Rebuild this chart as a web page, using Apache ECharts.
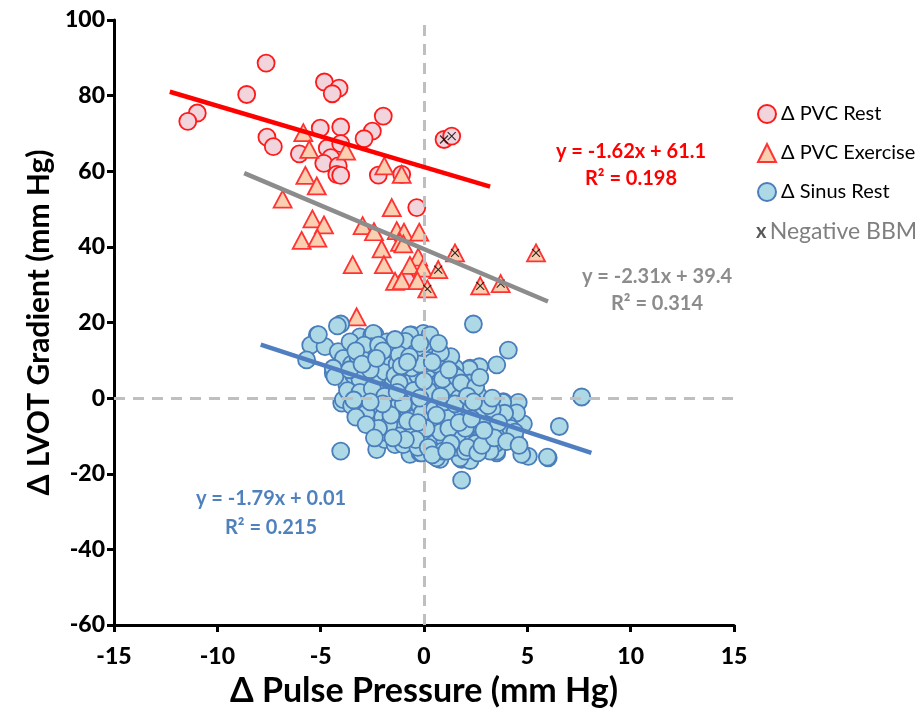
<!DOCTYPE html>
<html>
<head>
<meta charset="utf-8">
<script src="https://cdn.jsdelivr.net/npm/echarts@6/dist/echarts.min.js"></script>
<style>html,body{margin:0;padding:0;background:#fff}#c{width:922px;height:713px}</style>
</head>
<body>
<div id="c"></div>
<script>
// ---- data ----
const xTicks = [-15, -10, -5, 0, 5, 10, 15];
const yTicks = [-60, -40, -20, 0, 20, 40, 60, 80, 100];

const pvcRest = [[-7.64,88.6],[-8.58,80.3],[-10.97,75.4],[-11.43,73.2],[-4.82,83.6],[-4.11,82.0],[-4.44,80.5],[-1.97,74.6],[-2.50,70.6],[-2.90,68.6],[-5.02,71.4],[-4.03,71.7],[-7.60,69.0],[-7.29,66.5],[-6.03,64.6],[-4.68,66.1],[-4.03,67.3],[-4.51,63.6],[-4.85,62.1],[-4.15,61.4],[-4.22,59.2],[-4.03,58.9],[-2.21,59.0],[-1.08,59.2],[-0.35,50.4],[0.97,68.4],[1.34,69.3],[-0.87,31.1]];

const pvcExercise = [[-5.84,70.2],[-5.55,65.8],[-3.77,65.3],[-1.92,61.4],[-1.08,59.2],[-5.74,58.9],[-5.19,56.1],[-6.84,52.6],[-1.56,50.4],[-5.40,47.4],[-4.84,45.8],[-5.92,41.7],[-5.16,42.3],[-2.97,45.6],[-2.42,44.0],[-1.32,44.3],[-0.97,43.9],[-0.23,43.9],[-2.05,39.5],[-1.16,41.2],[-1.00,40.8],[-0.28,37.3],[-0.68,35.1],[-0.06,34.4],[-3.45,35.3],[-1.94,35.3],[-1.40,30.9],[-1.08,31.1],[-0.32,31.1],[0.16,28.9],[0.69,34.0],[1.50,38.4],[2.72,29.7],[3.71,30.3],[5.42,38.4],[-3.26,21.5]];

const sinusRest = [[-4.03,19.6],[-4.19,19.1],[2.39,19.6],[-5.16,16.7],[-5.48,14.0],[-4.79,13.6],[-5.68,10.1],[-3.10,16.2],[-2.37,16.8],[-2.53,16.5],[-1.80,14.9],[-0.60,16.7],[-0.03,17.1],[-3.55,14.5],[-4.06,12.1],[4.08,12.7],[1.18,10.1],[2.23,7.9],[2.68,8.3],[3.52,8.8],[1.66,3.7],[7.63,0.3],[3.84,-0.9],[4.56,-1.1],[4.40,-4.4],[4.81,-6.8],[6.55,-7.5],[4.40,-11.0],[4.81,-14.9],[5.05,-15.4],[6.01,-15.8],[1.82,-16.2],[2.23,-16.5],[1.74,-15.8],[1.82,-21.7],[-4.03,-14.0],[-2.29,-13.6],[-0.68,-14.9],[-0.19,-14.5],[0.69,-14.5],[0.77,-16.2],[3.52,-14.5],[-3.74,-0.9],[-3.98,-1.3],[-3.26,-3.5],[-4.39,6.6],[-3.74,3.7],
[-5.11,16.8],[-4.15,12.3],[-3.90,10.5],[-4.39,7.9],[-4.31,5.7],[-3.26,7.0],[-3.58,14.9],[-2.45,17.1],[-3.02,13.2],[-2.53,13.6],[-1.97,11.4],[-2.53,9.7],[-2.29,6.6],[-2.77,3.5],[-2.69,0.4],[-3.90,-0.4],[-3.18,0],[-0.68,16.7],[-0.76,13.6],[-1.00,10.5],[-1.64,8.8],[-1.16,6.1],[-1.80,3.5],[-1.48,0.9],[-2.29,0.4],[-0.19,11.4],[0.29,13.2],[0.45,8.3],[-0.19,5.3],[-0.52,2.2],[0.45,2.2],[0.61,-1.8],
[0.45,12.7],[0.29,16.7],[2.19,7.7],[1.18,9.8],[2.39,2.5],[0.93,2.6],[0.61,6.1],[1.90,-0.4],
[-2.21,-5.7],[-1.64,-9.7],[-1.89,-11.0],[-1.40,-12.3],[-0.11,-14.5],[0.61,-15.8],[-2.45,-6.1],[-1.16,-5.3],[-1.64,-2.6],[-0.68,-2.6],[-0.03,-7.0],[-0.68,-9.7],[0.29,-11.4],[0.61,-8.8],[-1.00,-12.3],
[3.52,-14.0],[4.73,-14.9],[5.97,-15.6],[4.48,-3.9],[3.68,-3.5],[3.81,-1.1],[3.52,-11.8],[3.19,-9.2],[2.87,-7.9],[2.39,-6.6],[1.90,-5.3],[1.90,-1.3],[1.26,-3.5],[0.69,-12.3],[1.42,-10.5],[1.90,-9.7],[2.39,-8.8],[3.84,-8.8],[4.08,-7.0],[3.03,-10.5],
[-3.5,9],[-3.2,11],[-2.8,8],[-2.6,12],[-2.4,5],[-2.1,9],[-1.9,7],[-1.7,11],[-1.5,4],[-1.3,9],[-1.1,13],[-0.9,7],[-0.7,4],[-0.5,10],[-0.3,6],[-0.1,3],[0.1,8],[0.3,5],[0.5,11],[0.7,4],[0.9,7],[1.1,1],[1.3,5],[1.5,8],[-3.0,3],[-2.7,1],[-2.3,-1],[-2.0,2],[-1.8,-2],[-1.6,1],[-1.4,-4],[-1.2,-1],[-1.0,2],[-0.8,-3],[-0.6,0],[-0.4,-5],[-0.2,-2],[0,1],[0.2,-4],[0.4,-1],[0.6,-6],[0.8,-3],[1.0,-7],[1.2,-2],[1.4,-5],[1.6,-8],[1.8,-3],[2.0,-6],[2.2,-9],[2.4,-4],[2.6,-7],[2.8,-10],[3.0,-5],[3.2,-8],[3.4,-6],[3.6,-10],[3.9,-4],[4.2,-8],[4.4,-9],[-3.4,6],[-3.1,5],[-2.9,14],[-2.2,14],[-1.6,13],[-0.9,15],[-0.4,12],[0.2,10],[0.6,9],[1.0,10],[1.3,11],[-2.5,-3],[-2.0,-5],[-1.5,-7],[-1.0,-8],[-0.5,-9],[0,-10],[0.5,-12],[1.0,-11],[1.5,-13],[2.0,-11],[2.5,-12],[3.0,-12],[-1.2,-10],[-0.3,-13],[0.3,-7],[-0.1,-4],[0.8,-9],[1.6,-10],[2.3,-2],[2.7,-4],[3.3,-3],[1.9,2],[2.2,4],[1.2,3],[-3.7,2],[-3.5,-2],[-2.8,-4],[-1.9,-9],[0.9,-14],[2.0,-14],[3.2,-14],[-2.6,7.5],[-1.4,6],[-0.6,8],[0.4,3],[1.7,0],[2.9,-1],[-0.8,-6],[0.1,-8],[1.1,-5],[-3.3,-5],[-2.9,10],[-1.2,11.5],[0.8,12],[-0.2,9],[1.4,6.5],[2.6,1],[3.1,-2],[0.5,-3],[-1.7,-7],[2.1,-13],[1.2,-8],[-0.4,-11],
[-3.3,12.5],[-2.0,12.5],[-1.4,15.5],[-0.2,14.5],[0.7,14.5],[-3.6,7.5],[-3.0,9],[-2.3,10.5],[-1.1,8.5],[-0.7,11],[0.4,9.5],[0.9,5],[1.6,5.5],[1.8,4],[2.5,3],[2.7,5.5],[-3.1,1.5],[-2.5,2.5],[-1.9,0.5],[-1.2,4],[-0.5,2],[0.2,2],[1.0,-1],[1.5,-1.5],[2.1,0.5],[2.4,-1],[3.3,0],[3.0,-7],[3.6,-6.5],[2.0,-8],[1.3,-12],[0.2,-13],[-0.9,-11],[-1.6,-4.5],[-2.2,-8],[-2.8,-7],[-2.4,-10.5],[-1.5,-10.5],[0.4,-15],[1.1,-14],[2.6,-14.5],[2.8,-12.5],[3.4,-10.5],[4.0,-11.5],[4.6,-12.5],[-0.2,0],[0.8,0.5],[-1.0,-1.5],[-0.3,-6.5],[0.6,-4.5],[1.7,-6.5],[2.3,-5.5],[2.9,-8.5],[-2.0,-1.5],[-2.6,-1],[-3.4,-0.5],[-1.3,1.5],[0.0,4.5],[1.2,7.5],[-0.8,9.5]];

const negativeBBM = [[0.97,68.4],[1.34,69.3],[0.16,28.9],[0.69,34.0],[1.50,38.4],[2.72,29.7],[3.71,30.3],[5.42,38.4]];

// regression fits as printed on the chart: [slope, intercept, xStart, xEnd]
const fitRest = [-1.62, 61.1, -12.3, 3.2];
const fitExercise = [-2.31, 39.4, -8.7, 6.0];
const fitSinus = [-1.79, 0.01, -7.9, 8.1];

const seriesNames = ['\u0394 PVC Rest', '\u0394 PVC Exercise', '\u0394 Sinus Rest'];
const eqRest = ['y = -1.62x + 61.1', 'R\u00B2 = 0.198'];
const eqExercise = ['y = -2.31x + 39.4', 'R\u00B2 = 0.314'];
const eqSinus = ['y = -1.79x + 0.01', 'R\u00B2 = 0.215'];

function fitLine(f) { return [[f[2], f[0]*f[2]+f[1]], [f[3], f[0]*f[3]+f[1]]]; }

const FONT = 'Lato';
const chart = echarts.init(document.getElementById('c'));
const xPath = 'path://M0,0L10,10M10,0L0,10';
const eqFont = 'bold 20px Lato';

chart.setOption({
  animation: false,
  textStyle: { fontFamily: FONT },
  grid: { left: 114, right: 188, top: 20, bottom: 85, containLabel: false },
  xAxis: {
    type: 'value', min: -15, max: 15, interval: 5,
    name: '\u0394 Pulse Pressure (mm Hg)', nameLocation: 'middle', nameGap: 49,
    nameTextStyle: { fontFamily: FONT, fontWeight: 'bold', fontSize: 34, color: '#000' },
    axisLine: { onZero: false, lineStyle: { color: '#000', width: 3 } },
    axisTick: { show: true, length: 7, lineStyle: { color: '#000', width: 3 } },
    axisLabel: { fontFamily: FONT, fontWeight: 900, fontSize: 23, color: '#000', margin: 20 },
    splitLine: { show: false }
  },
  yAxis: {
    type: 'value', min: -60, max: 100, interval: 20,
    name: '\u0394 LVOT Gradient (mm Hg)', nameLocation: 'middle', nameGap: 54,
    nameTextStyle: { fontFamily: FONT, fontWeight: 'bold', fontSize: 30, color: '#000' },
    axisLine: { onZero: false, lineStyle: { color: '#000', width: 3 } },
    axisTick: { show: true, length: 7, lineStyle: { color: '#000', width: 3 } },
    axisLabel: { fontFamily: FONT, fontWeight: 900, fontSize: 23, color: '#000', margin: 9 },
    splitLine: { show: false }
  },
  legend: {
    orient: 'vertical', left: 752, top: 99, itemGap: 19,
    itemWidth: 18, itemHeight: 18,
    textStyle: { fontFamily: FONT, fontSize: 20, color: '#000' },
    data: seriesNames
  },
  graphic: [
    { type: 'text', left: 756, top: 220, style: { text: '{a|x} {b|Negative BBM}', rich: {
      a: { fontFamily: FONT, fontWeight: 'bold', fontSize: 20, fill: '#595959' },
      b: { fontFamily: FONT, fontSize: 23, fill: '#7f7f7f' } } } },
    { type: 'text', x: 631, y: 152, style: { text: eqRest[0], fill: '#ff0000', font: eqFont, textAlign: 'center', textVerticalAlign: 'middle' } },
    { type: 'text', x: 631, y: 179, style: { text: eqRest[1], fill: '#ff0000', font: eqFont, textAlign: 'center', textVerticalAlign: 'middle' } },
    { type: 'text', x: 657, y: 277, style: { text: eqExercise[0], fill: '#8c8c8c', font: eqFont, textAlign: 'center', textVerticalAlign: 'middle' } },
    { type: 'text', x: 657, y: 304, style: { text: eqExercise[1], fill: '#8c8c8c', font: eqFont, textAlign: 'center', textVerticalAlign: 'middle' } },
    { type: 'text', x: 271, y: 499, style: { text: eqSinus[0], fill: '#4f81bd', font: eqFont, textAlign: 'center', textVerticalAlign: 'middle' } },
    { type: 'text', x: 271, y: 528, style: { text: eqSinus[1], fill: '#4f81bd', font: eqFont, textAlign: 'center', textVerticalAlign: 'middle' } }
  ],
  series: [
    { type: 'line', name: 'ref', data: [], silent: true, z: 1,
      markLine: { silent: true, symbol: 'none', label: { show: false },
        lineStyle: { color: '#bfbfbf', width: 3, type: [11, 8] },
        data: [{ xAxis: 0 }, { yAxis: 0 }] } },
    { type: 'scatter', name: seriesNames[0], data: pvcRest, symbol: 'circle', symbolSize: 17, z: 3,
      itemStyle: { color: '#f2d4dc', borderColor: '#ff1a1a', borderWidth: 1.8, opacity: 1 } },
    { type: 'scatter', name: seriesNames[1], data: pvcExercise, symbol: 'triangle', symbolSize: [18, 17], z: 3,
      itemStyle: { color: '#fbd0b0', borderColor: '#ff3333', borderWidth: 1.8, opacity: 1 } },
    { type: 'scatter', name: seriesNames[2], data: sinusRest, symbol: 'circle', symbolSize: 17, z: 3,
      itemStyle: { color: '#add8e6', borderColor: '#4a7ebb', borderWidth: 1.8, opacity: 1 } },
    { type: 'scatter', name: 'Negative BBM', data: negativeBBM, symbol: xPath, symbolSize: 8, z: 4,
      itemStyle: { color: 'none', borderColor: '#000', borderWidth: 1.2 } },
    { type: 'line', name: 'fitRest', data: fitLine(fitRest), symbol: 'none', z: 5,
      lineStyle: { color: '#ff0000', width: 4.5 } },
    { type: 'line', name: 'fitExercise', data: fitLine(fitExercise), symbol: 'none', z: 5,
      lineStyle: { color: '#8c8c8c', width: 4.5 } },
    { type: 'line', name: 'fitSinus', data: fitLine(fitSinus), symbol: 'none', z: 5,
      lineStyle: { color: '#4f7fc0', width: 4.5 } }
  ]
});
</script>
</body>
</html>
